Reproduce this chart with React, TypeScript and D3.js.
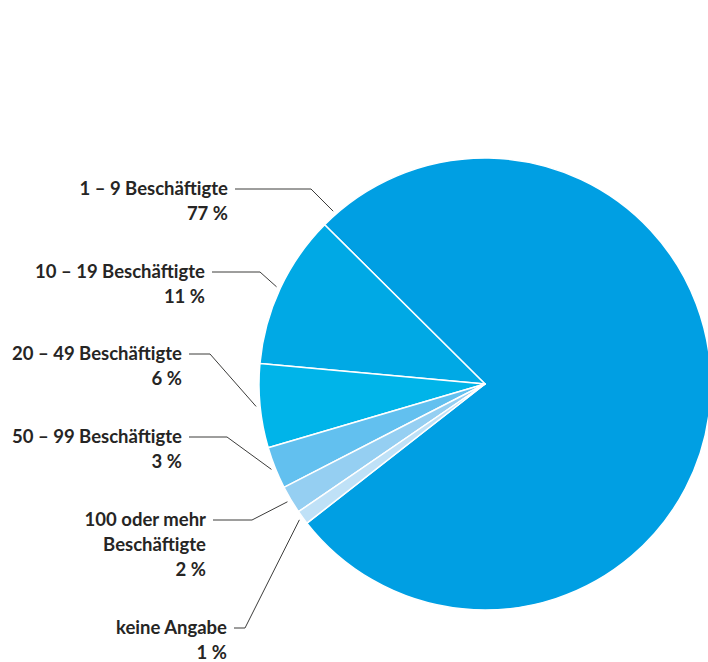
import React from "react";
import * as d3 from "d3";

// data
const categories = [
  "1 – 9 Beschäftigte",
  "10 – 19 Beschäftigte",
  "20 – 49 Beschäftigte",
  "50 – 99 Beschäftigte",
  "100 oder mehr Beschäftigte",
  "keine Angabe",
];
const values = [77, 11, 6, 3, 2, 1];
const colors = ["#009fe3", "#00a9e5", "#00b4e9", "#62c0ef", "#95cff2", "#bfe1f7"];

// label layout (right edge of text, first baseline, knee of leader line)
const labelRight = [228, 205, 182, 182, 206, 227];
const labelBaseline = [195, 278, 360, 443, 526, 634];
const kneeX = [311, 260, 210, 227, 252, 245];
const labelWrap: { [k: string]: string[] } = {
  "100 oder mehr Beschäftigte": ["100 oder mehr", "Beschäftigte"],
};

const W = 708;
const H = 662;
const cx = 485;
const cy = 384;
const radius = 226;
const lineH = 25;
const deg = Math.PI / 180;

const App = () => {
  const pie = d3
    .pie<number>()
    .value(d => d)
    .sort(null)
    .startAngle(592 * deg)
    .endAngle(232 * deg);
  const arcs = pie(values);
  const arc = d3.arc<d3.PieArcDatum<number>>().innerRadius(0).outerRadius(radius);

  const point = (a: number, r: number) => [cx + r * Math.sin(a), cy - r * Math.cos(a)];

  return (
    <svg
      width={W}
      height={H}
      style={{ position: "absolute", left: 0, top: 0, display: "block", background: "#fff" }}
      fontFamily="Lato, 'Open Sans', sans-serif"
      fontWeight={700}
      fontSize={18.5}
    >
      <g transform={`translate(${cx},${cy})`}>
        {arcs.map((d, i) => (
          <path key={i} d={arc(d) || ""} fill={colors[i]} stroke="#fff" strokeWidth={1.5} strokeLinejoin="round" />
        ))}
      </g>
      {arcs.map((d, i) => {
        const a = i === 0 ? d.endAngle + 3.9 * deg : (d.startAngle + d.endAngle) / 2;
        const [px, py] = point(a, 230);
        const ly = labelBaseline[i] - 6;
        const lines = labelWrap[categories[i]] || [categories[i]];
        const path = d3.path();
        path.moveTo(labelRight[i] + 7, ly);
        path.lineTo(kneeX[i], ly);
        path.lineTo(px, py);
        return (
          <g key={i}>
            <path d={path.toString()} fill="none" stroke="#3c3c3b" strokeWidth={1} />
            <text textAnchor="end" fill="#262524">
              {lines.map((t, j) => (
                <tspan key={j} x={labelRight[i]} y={labelBaseline[i] + j * lineH}>
                  {t}
                </tspan>
              ))}
              <tspan x={labelRight[i]} y={labelBaseline[i] + lines.length * lineH}>
                {values[i] + " %"}
              </tspan>
            </text>
          </g>
        );
      })}
    </svg>
  );
};

export default App;
